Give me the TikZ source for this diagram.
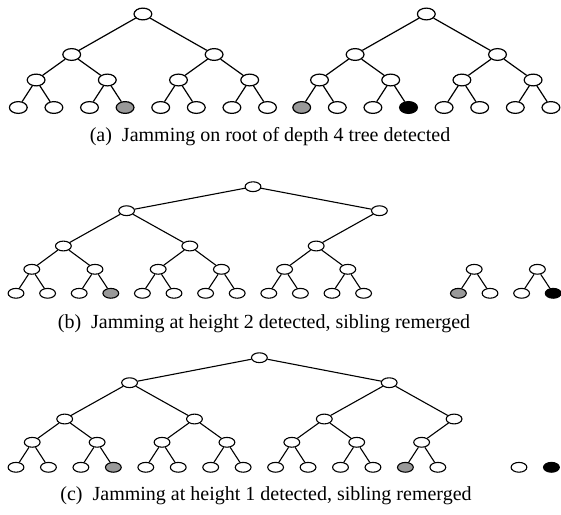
\documentclass[tikz,border=0pt]{standalone}
\usepackage{fontspec}
\setmainfont{Liberation Serif}
\usetikzlibrary{shapes.geometric}
\begin{document}
\begin{tikzpicture}[x=1pt,y=-1pt,
  nda/.style={draw=black, line width=1.2pt, ellipse, inner sep=0pt,
              minimum width=17.8pt, minimum height=11.8pt},
  ndb/.style={draw=black, line width=1.1pt, ellipse, inner sep=0pt,
              minimum width=15.8pt, minimum height=9.8pt},
  eda/.style={line width=1.2pt},
  edb/.style={line width=1.1pt},
  captxt/.style={font=\fontsize{20}{24}\selectfont, anchor=base, inner sep=0pt}]
\useasboundingbox (0,0) rectangle (561,514);

% ---------------- (a) left tree ----------------
\def\xa{18.3}\def\dxa{35.6}
\foreach \k/\f in {0/white,1/white,2/white,3/black!40,4/white,5/white,6/white,7/white}
  \node[nda, fill=\f] (aL3-\k) at ({\xa+\dxa*\k},107.5) {};
\foreach \k in {0,...,3}
  \node[nda, fill=white] (aL2-\k) at ({\xa+\dxa*(2*\k+0.5)},80) {};
\foreach \k in {0,1}
  \node[nda, fill=white] (aL1-\k) at ({\xa+\dxa*(4*\k+1.5)},54.5) {};
\node[nda, fill=white] (aL0) at ({\xa+\dxa*3.5},14) {};
\foreach \k in {0,...,7}{\pgfmathtruncatemacro\p{\k/2}\draw[eda] (aL2-\p) -- (aL3-\k);}
\foreach \k in {0,...,3}{\pgfmathtruncatemacro\p{\k/2}\draw[eda] (aL1-\p) -- (aL2-\k);}
\foreach \k in {0,1}\draw[eda] (aL0) -- (aL1-\k);

% ---------------- (a) right tree ----------------
\def\xr{301.7}
\foreach \k/\f in {0/black!40,1/white,2/white,3/black,4/white,5/white,6/white,7/white}
  \node[nda, fill=\f] (aR3-\k) at ({\xr+\dxa*\k},107.5) {};
\foreach \k in {0,...,3}
  \node[nda, fill=white] (aR2-\k) at ({\xr+\dxa*(2*\k+0.5)},80) {};
\foreach \k in {0,1}
  \node[nda, fill=white] (aR1-\k) at ({\xr+\dxa*(4*\k+1.5)},54.5) {};
\node[nda, fill=white] (aR0) at ({\xr+\dxa*3.5},14) {};
\foreach \k in {0,...,7}{\pgfmathtruncatemacro\p{\k/2}\draw[eda] (aR2-\p) -- (aR3-\k);}
\foreach \k in {0,...,3}{\pgfmathtruncatemacro\p{\k/2}\draw[eda] (aR1-\p) -- (aR2-\k);}
\foreach \k in {0,1}\draw[eda] (aR0) -- (aR1-\k);

\node[captxt] (capa) at (270,141) {(a)\ \ Jamming on root of depth 4 tree detected};

% ---------------- (b) ----------------
\def\xb{16}\def\dxb{31.6}
\foreach \k/\f in {0/white,1/white,2/white,3/black!40,4/white,5/white,6/white,7/white,
                   8/white,9/white,10/white,11/white,14/black!40,15/white,16/white,17/black}
  \node[ndb, fill=\f] (b4-\k) at ({\xb+\dxb*\k},293.3) {};
\foreach \k in {0,...,5,7,8}
  \node[ndb, fill=white] (b3-\k) at ({\xb+\dxb*(2*\k+0.5)},269.3) {};
\foreach \k in {0,1,2}
  \node[ndb, fill=white] (b2-\k) at ({\xb+\dxb*(4*\k+1.5)},246) {};
\foreach \k in {0,1}
  \node[ndb, fill=white] (b1-\k) at ({\xb+\dxb*(8*\k+3.5)},210.7) {};
\node[ndb, fill=white] (b0) at ({\xb+\dxb*7.5},186.7) {};
\foreach \k in {0,...,11,14,15,16,17}{\pgfmathtruncatemacro\p{\k/2}\draw[edb] (b3-\p) -- (b4-\k);}
\foreach \k in {0,...,5}{\pgfmathtruncatemacro\p{\k/2}\draw[edb] (b2-\p) -- (b3-\k);}
\foreach \k in {0,1,2}{\pgfmathtruncatemacro\p{\k/2}\draw[edb] (b1-\p) -- (b2-\k);}
\foreach \k in {0,1}\draw[edb] (b0) -- (b1-\k);

\node[captxt] (capb) at (264,328) {(b)\ \ Jamming at height 2 detected, sibling remerged};

% ---------------- (c) ----------------
\def\xc{16}\def\dxc{32.45}
\foreach \k/\f in {0/white,1/white,2/white,3/black!40,4/white,5/white,6/white,7/white,
                   8/white,9/white,10/white,11/white,12/black!40,13/white}
  \node[ndb, fill=\f] (c4-\k) at ({\xc+\dxc*\k},467.3) {};
\node[ndb, fill=white] (cX-0) at ({\xc+\dxc*15.5},467.3) {};
\node[ndb, fill=black] (cX-1) at ({\xc+\dxc*16.5},467.3) {};
\foreach \k in {0,...,6}
  \node[ndb, fill=white] (c3-\k) at ({\xc+\dxc*(2*\k+0.5)},442.3) {};
\foreach \k in {0,...,3}
  \node[ndb, fill=white] (c2-\k) at ({\xc+\dxc*(4*\k+1.5)},419) {};
\foreach \k in {0,1}
  \node[ndb, fill=white] (c1-\k) at ({\xc+\dxc*(8*\k+3.5)},382.7) {};
\node[ndb, fill=white] (c0) at ({\xc+\dxc*7.5},357.7) {};
\foreach \k in {0,...,13}{\pgfmathtruncatemacro\p{\k/2}\draw[edb] (c3-\p) -- (c4-\k);}
\foreach \k in {0,...,6}{\pgfmathtruncatemacro\p{\k/2}\draw[edb] (c2-\p) -- (c3-\k);}
\foreach \k in {0,...,3}{\pgfmathtruncatemacro\p{\k/2}\draw[edb] (c1-\p) -- (c2-\k);}
\foreach \k in {0,1}\draw[edb] (c0) -- (c1-\k);

\node[captxt] (capc) at (266,500) {(c)\ \ Jamming at height 1 detected, sibling remerged};
\end{tikzpicture}
\end{document}
